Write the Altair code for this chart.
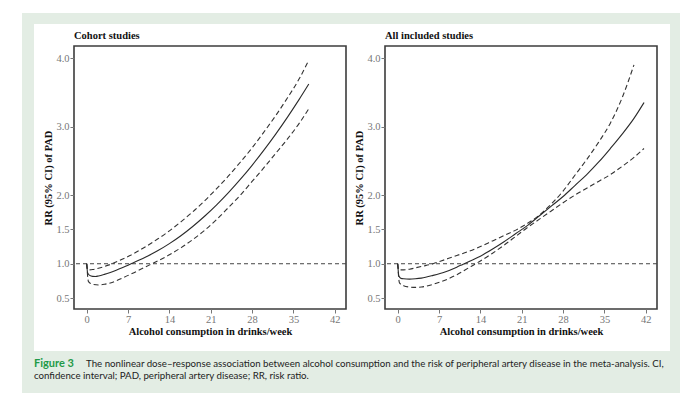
import altair as alt
import pandas as pd

# ---------------- data ----------------
# Cohort studies panel
coh_est_x = [0, 0.15, 0.5, 1, 1.5, 2, 3, 4, 5, 6, 7, 8, 10, 12, 14, 16, 18, 20, 22, 24, 26, 28, 30, 32, 34, 36, 37.6]
coh_est_y = [1.0, 0.87, 0.83, 0.816, 0.815, 0.822, 0.845, 0.873, 0.905, 0.94, 0.977, 1.018, 1.098, 1.188, 1.293, 1.412, 1.547, 1.696, 1.859, 2.037, 2.229, 2.435, 2.656, 2.89, 3.138, 3.40, 3.62]
coh_up_x = [0, 0.2, 1, 2, 3, 4, 6, 8, 10, 12, 14, 16, 18, 20, 22, 24, 26, 28, 30, 32, 34, 36, 37.6]
coh_up_y = [1.0, 0.91, 0.915, 0.935, 0.96, 0.99, 1.065, 1.15, 1.25, 1.36, 1.48, 1.615, 1.76, 1.92, 2.095, 2.28, 2.48, 2.69, 2.92, 3.16, 3.42, 3.70, 3.97]
coh_lo_x = [0, 0.3, 1, 2, 3, 4, 6, 8, 10, 12, 14, 16, 18, 20, 22, 24, 26, 28, 30, 32, 34, 36, 37.6]
coh_lo_y = [1.0, 0.74, 0.70, 0.69, 0.70, 0.72, 0.79, 0.87, 0.955, 1.04, 1.13, 1.235, 1.355, 1.49, 1.645, 1.82, 2.0, 2.20, 2.40, 2.61, 2.82, 3.05, 3.26]

# All included studies panel
all_est_x = [0, 0.2, 0.5, 1, 2, 3, 4, 6, 8, 10, 11, 12, 14, 16, 18, 20, 22, 24, 26, 28, 30, 32, 34, 36, 38, 40, 41.7]
all_est_y = [1.0, 0.82, 0.79, 0.78, 0.775, 0.78, 0.79, 0.83, 0.88, 0.95, 0.99, 1.03, 1.11, 1.21, 1.32, 1.44, 1.56, 1.70, 1.84, 1.98, 2.14, 2.30, 2.48, 2.68, 2.89, 3.12, 3.35]
all_up_x = [0, 0.2, 1, 2, 3, 4, 6, 8, 10, 12, 14, 16, 18, 20, 22, 24, 26, 28, 30, 32, 34, 36, 38, 40]
all_up_y = [1.0, 0.91, 0.91, 0.92, 0.94, 0.96, 1.0, 1.06, 1.12, 1.18, 1.25, 1.33, 1.41, 1.49, 1.59, 1.71, 1.87, 2.06, 2.29, 2.52, 2.77, 3.05, 3.42, 3.90]
all_lo_x = [0, 0.3, 1, 2, 3, 4, 6, 8, 10, 12, 13, 14, 16, 18, 20, 22, 24, 26, 28, 30, 32, 34, 36, 38, 40, 41.7]
all_lo_y = [1.0, 0.72, 0.68, 0.66, 0.655, 0.66, 0.70, 0.76, 0.84, 0.94, 0.99, 1.04, 1.15, 1.27, 1.40, 1.53, 1.65, 1.77, 1.89, 2.00, 2.10, 2.20, 2.30, 2.42, 2.55, 2.68]

ref_value = [1.0]
x_ticks = [0, 7, 14, 21, 28, 35, 42]
y_ticks = [0.5, 1.0, 1.5, 2.0, 3.0, 4.0]
panel_titles = ["Cohort studies", "All included studies"]
x_title = "Alcohol consumption in drinks/week"
y_title = "RR (95% CI) of PAD"
caption_label = "Figure 3"
caption_line1 = "The nonlinear dose\u2013response association between alcohol consumption and the risk of peripheral artery disease in the meta-analysis. CI,"
caption_line2 = "confidence interval; PAD, peripheral artery disease; RR, risk ratio."

# ---------------- build ----------------
SERIF = "Liberation Serif"
W, H = 272, 263

def frame(xs, ys, series):
    return pd.DataFrame({"x": xs, "rr": ys, "series": series})

xscale = alt.Scale(domain=[-2.15, 43.9], nice=False, zero=False)
yscale = alt.Scale(domain=[0.34, 4.175], nice=False, zero=False)

xaxis = alt.Axis(values=x_ticks, grid=False, domain=False, tickSize=4, tickColor="#777",
                 labelColor="#777", labelFont=SERIF, labelFontSize=10.5, labelPadding=1,
                 titleFont=SERIF, titleFontWeight="bold", titleFontSize=10.5, titleColor="#111",
                 titlePadding=2)
yaxis = alt.Axis(values=y_ticks, format=".1f", grid=False, domain=False, tickSize=4, tickColor="#777",
                 labelColor="#777", labelFont=SERIF, labelFontSize=10.5, labelPadding=1,
                 titleFont=SERIF, titleFontWeight="bold", titleFontSize=10.5, titleColor="#111",
                 titlePadding=2)


def panel(est, up, lo, title):
    df_est = frame(est[0], est[1], "estimate")
    df_ci = pd.concat([frame(up[0], up[1], "upper"), frame(lo[0], lo[1], "lower")])
    df_ref = pd.DataFrame({"ref": ref_value})

    solid = alt.Chart(df_est).mark_line(interpolate="monotone", color="#2a2a2a", strokeWidth=1.1).encode(
        x=alt.X("x:Q", scale=xscale, axis=xaxis, title=x_title),
        y=alt.Y("rr:Q", scale=yscale, axis=yaxis, title=y_title),
    )
    dashed = alt.Chart(df_ci).mark_line(interpolate="monotone", color="#333", strokeWidth=1.1,
                                        strokeDash=[5, 3]).encode(
        x="x:Q", y="rr:Q", detail="series:N"
    )
    ref = alt.Chart(df_ref).mark_rule(color="#444", strokeWidth=1, strokeDash=[4, 3]).encode(y="ref:Q")

    return alt.layer(ref, dashed, solid).properties(
        width=W, height=H,
        view=alt.ViewBackground(stroke="#3c3c3c", strokeWidth=1.6),
        title=alt.TitleParams(title, anchor="start", frame="group", font=SERIF, fontWeight="bold",
                              fontSize=10.5, color="#111", offset=5),
    )


# decorative figure box (green frame, white panel) and caption
deco_df = pd.DataFrame({"k": [0]})
cap_df = pd.DataFrame({"label": [caption_label], "l1": [caption_line1], "l2": [caption_line2]})
green = alt.Chart(deco_df).mark_rect(fill="#e3ede4").encode(
    x=alt.value(-51), x2=alt.value(607), y=alt.value(-33), y2=alt.value(347))
white = alt.Chart(deco_df).mark_rect(fill="white").encode(
    x=alt.value(-39), x2=alt.value(597), y=alt.value(-22), y2=alt.value(305))
t0 = alt.Chart(cap_df).mark_text(align="left", baseline="middle", font="Lato", fontSize=11,
                                 fontWeight="bold", color="#1f9a48").encode(
    x=alt.value(-39), y=alt.value(318), text="label:N")
t1 = alt.Chart(cap_df).mark_text(align="left", baseline="middle", font="Lato", fontSize=9.7,
                                 color="#222").encode(
    x=alt.value(13), y=alt.value(318), text="l1:N")
t2 = alt.Chart(cap_df).mark_text(align="left", baseline="middle", font="Lato", fontSize=9.7,
                                 color="#222").encode(
    x=alt.value(-39), y=alt.value(330), text="l2:N")
deco = alt.layer(green, white, t0, t1, t2).properties(width=1, height=H)

left = panel((coh_est_x, coh_est_y), (coh_up_x, coh_up_y), (coh_lo_x, coh_lo_y), panel_titles[0])
right = panel((all_est_x, all_est_y), (all_up_x, all_up_y), (all_lo_x, all_lo_y), panel_titles[1])

panels = alt.hconcat(left, right, spacing=39, bounds="flush")
chart = alt.hconcat(deco, panels, spacing=0, bounds="flush").properties(
    padding={"left": 13, "top": 4, "right": 0, "bottom": 0},
    background="white",
).configure_view(stroke="transparent")

chart.save("out.html", embed_options={"renderer": "svg", "actions": False})
